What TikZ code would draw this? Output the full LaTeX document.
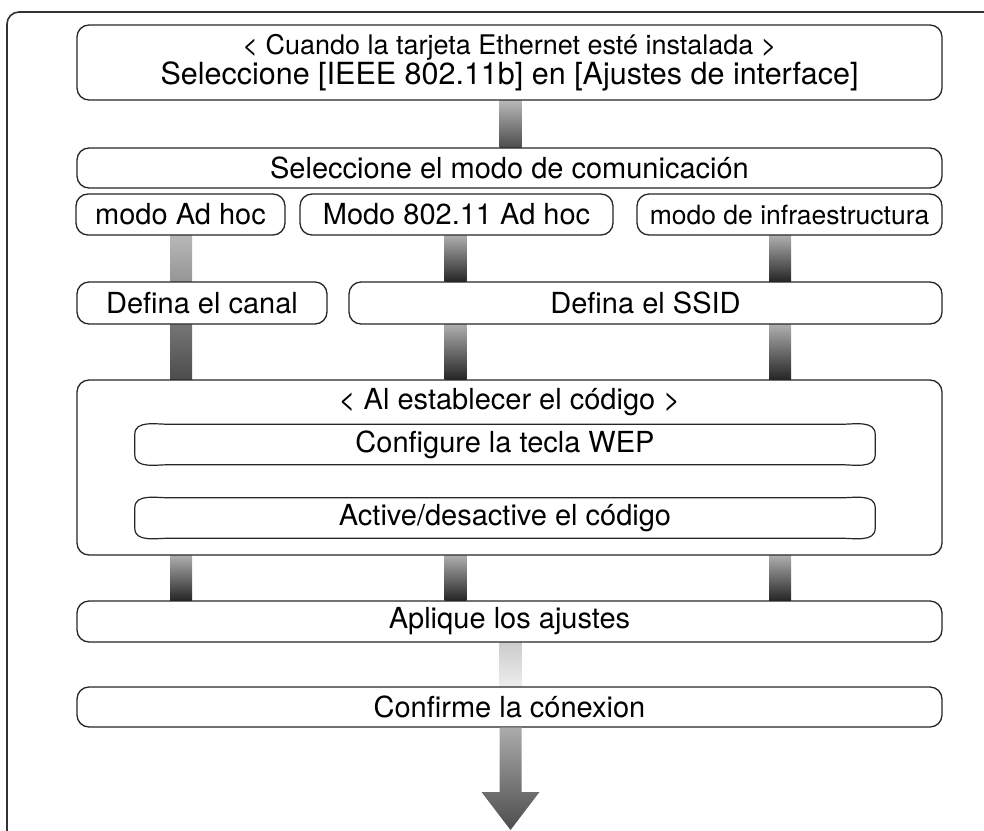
\documentclass[tikz,border=0pt]{standalone}
\usepackage{fontspec}
\setmainfont{TeX Gyre Heros}
\usetikzlibrary{calc,backgrounds}

\begin{document}
\begin{tikzpicture}[x=1pt, y=-1pt,
  box/.style={draw=black!85, fill=white, line width=1.3pt, rounded corners=12pt,
    inner sep=0pt, font=\fontsize{29}{28}\selectfont},
  pill/.style={inner sep=0pt, minimum width=740pt, minimum height=40pt,
    font=\fontsize{29}{28}\selectfont},
  pillline/.style={draw=black!85, line width=1.2pt},
  frame/.style={draw=black!80, line width=1.6pt, rounded corners=12pt},
  barlight/.style={top color=black!28, bottom color=black!70},
  bardark/.style={top color=black!32, bottom color=black!85},
  barpale/.style={top color=black!20, bottom color=black!7}]
  \useasboundingbox (0,0) rectangle (984,830);
  \clip (0,0) rectangle (984,830);
  % Outer frame
  \draw[frame] (7,860) -- (7,12) -- (1010,12);
  % Columns of the connectors
  \coordinate (colL) at (181,0);
  \coordinate (colM) at (455.5,0);
  \coordinate (colR) at (780,0);
  \coordinate (colC) at (510.5,0);
  % Draw boxes
  \node[box, minimum width=865pt, minimum height=75pt, align=center] (iface) at (509.5,62.5)
    {{\fontsize{27}{28}\selectfont < Cuando la tarjeta Ethernet esté instalada >}\\
     {\fontsize{30.5}{28}\selectfont Seleccione [IEEE 802.11b] en [Ajustes de interface]}};
  \node[box, minimum width=865pt, minimum height=40pt] (modo) at (509.5,168) {Seleccione el modo de comunicación};
  \node[box, minimum width=209pt, minimum height=41pt] (adhoc) at (180.5,214.5) {modo Ad hoc};
  \node[box, minimum width=313pt, minimum height=41pt] (adhocb) at (456.5,214.5) {Modo 802.11 Ad hoc};
  \node[box, minimum width=305pt, minimum height=41pt, font=\fontsize{26.5}{28}\selectfont] (infra) at (789.5,214.5) {modo de infraestructura};
  \node[box, minimum width=250pt, minimum height=42pt] (canal) at (202,303) {Defina el canal};
  \node[box, minimum width=593pt, minimum height=42pt] (ssid) at (645.5,303) {Defina el SSID};
  \node[box, minimum width=865pt, minimum height=175pt] (codigo) at (509.5,467.5) {};
  \node[inner sep=0pt, font=\fontsize{29}{28}\selectfont] (codtitle) at (509.5,402) {< Al establecer el código >};
  \node[pill] (wep) at (505,444.5) {Configure la tecla WEP};
  \node[pill] (cifrado) at (505,518) {Active/desactive el código};
  \node[box, minimum width=865pt, minimum height=41pt] (aplique) at (509.5,621.5) {Aplique los ajustes};
  \node[box, minimum width=865pt, minimum height=40pt] (confirme) at (509.5,707) {Confirme la cónexion};
  \coordinate (tip) at (510.5,830);
  % Pill outlines
  \foreach \p in {wep, cifrado} {
    \draw[pillline] ($(\p.north west)+(35,0)$) -- ($(\p.north east)+(-35,0)$)
      to[out=0,in=90] ($(\p.north east)+(0,10)$) -- ($(\p.south east)+(0,-10)$)
      to[out=-90,in=0] ($(\p.south east)+(-35,0)$) -- ($(\p.south west)+(35,0)$)
      to[out=180,in=-90] ($(\p.south west)+(0,-10)$) -- ($(\p.north west)+(0,10)$)
      to[out=90,in=180] ($(\p.north west)+(35,0)$);
  }
  % Draw connectors
  \begin{scope}[on background layer]
    \shade[barlight] ($(iface.south -| colC)+(-11,0)$) rectangle ($(modo.north -| colC)+(11,0)$);
    \shade[barlight] ($(adhoc.south -| colL)+(-11,0)$) rectangle ($(codigo.north -| colL)+(11,0)$);
    \foreach \a/\b in {adhocb/ssid, ssid/codigo} {
      \shade[bardark] ($(\a.south -| colM)+(-11,0)$) rectangle ($(\b.north -| colM)+(11,0)$);
    }
    \foreach \a/\b in {infra/ssid, ssid/codigo} {
      \shade[bardark] ($(\a.south -| colR)+(-11,0)$) rectangle ($(\b.north -| colR)+(11,0)$);
    }
    \foreach \c in {colL, colM, colR} {
      \shade[bardark] ($(codigo.south -| \c)+(-11,0)$) rectangle ($(aplique.north -| \c)+(11,0)$);
    }
    \shade[barpale] ($(aplique.south -| colC)+(-11,0)$) rectangle ($(confirme.north -| colC)+(11,0)$);
  \end{scope}
  % Final arrow
  \shade[top color=black!33, bottom color=black!70]
    ($(confirme.south -| colC)+(-11,0)$) -- ($(tip)+(-11,-38)$) -- ($(tip)+(-29,-38)$)
    -- (tip) -- ($(tip)+(29,-38)$) -- ($(tip)+(11,-38)$) -- ($(confirme.south -| colC)+(11,0)$) -- cycle;
\end{tikzpicture}
\end{document}
